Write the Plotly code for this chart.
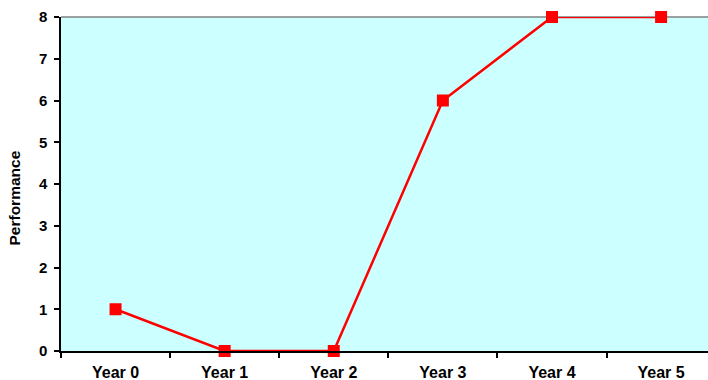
import plotly.graph_objects as go

categories = ["Year 0", "Year 1", "Year 2", "Year 3", "Year 4", "Year 5"]
performance = [1, 0, 0, 6, 8, 8]
y_ticks = [0, 1, 2, 3, 4, 5, 6, 7, 8]

FONT = "Arial, Liberation Sans, sans-serif"

fig = go.Figure()
fig.add_trace(go.Scatter(
    x=categories, y=performance, mode="lines+markers",
    line=dict(color="#FF0000", width=2.5),
    marker=dict(symbol="square", size=12, color="#FF0000"),
    cliponaxis=False, showlegend=False,
))

fig.update_layout(
    width=708, height=380,
    margin=dict(l=61, r=0, t=17, b=29),
    paper_bgcolor="white", plot_bgcolor="#CCFFFF",
    font=dict(family=FONT, color="black"),
    xaxis=dict(
        type="category", range=[-0.5, 5.43], automargin=False,
        tickson="boundaries", ticks="outside", ticklen=5, tickwidth=1.5, tickcolor="black",
        showline=True, linecolor="black", linewidth=1.5,
        showgrid=False, zeroline=False,
        tickfont=dict(family=FONT, size=16, color="black", weight="bold"),
        ticklabelstandoff=6,
    ),
    yaxis=dict(
        range=[0, 8], tickvals=y_ticks, automargin=False,
        ticks="outside", ticklen=5, tickwidth=1.5, tickcolor="black",
        showline=True, linecolor="black", linewidth=1.5,
        showgrid=False, zeroline=False,
        tickfont=dict(family=FONT, size=15, color="black", weight="bold"),
        ticklabelstandoff=4,
    ),
    annotations=[dict(text="Performance", xref="paper", yref="paper",
                      x=-61 / 647 + 13.5 / 647, y=(351 - 198) / 334,
                      xanchor="center", yanchor="middle", textangle=-90, showarrow=False,
                      font=dict(family=FONT, size=15.5, color="black", weight="bold"))],
    shapes=[dict(type="line", xref="paper", yref="paper", x0=0, x1=1, y0=1, y1=1,
                 line=dict(color="#808080", width=1.5), layer="below")],
)

fig.write_html("out.html")
